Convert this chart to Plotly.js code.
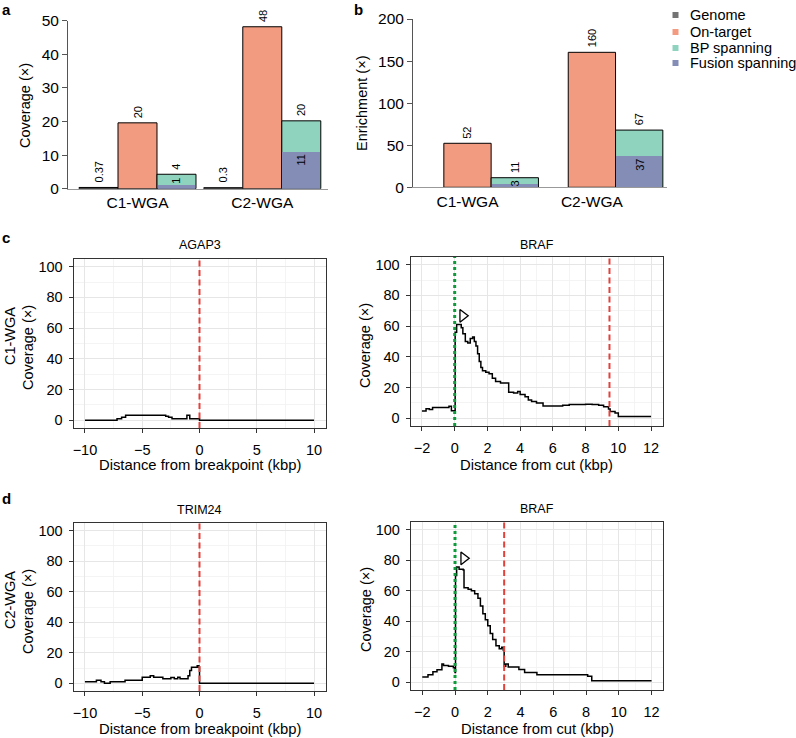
<!DOCTYPE html>
<html><head><meta charset="utf-8">
<script src="https://cdn.plot.ly/plotly-3.0.1.min.js"></script>
<style>html,body{margin:0;padding:0;background:#fff}#chart{width:796px;height:738px}</style>
</head><body><div id="chart"></div>
<script>
// ---------------- data ----------------
const sampleGroups = ['C1-WGA', 'C2-WGA'];
const seriesNames = ['Genome', 'On-target', 'BP spanning', 'Fusion spanning'];

// panel a: coverage (x)
const coverageGenome   = [0.37, 0.30];
const coverageOnTarget = [19.6, 48.2];
const coverageBP       = [4.3, 20.2];
const coverageFusion   = [1.1, 11.0];
const coverageGenomeLabels   = ['0.37', '0.3'];
const coverageOnTargetLabels = ['20', '48'];
const coverageBPLabels       = ['4', '20'];
const coverageFusionLabels   = ['1', '11'];

// panel b: enrichment (x)
const enrichOnTarget = [52.3, 160.4];
const enrichBP       = [11.4, 68.0];
const enrichFusion   = [3.9, 37.6];
const enrichOnTargetLabels = ['52', '160'];
const enrichBPLabels       = ['11', '67'];
const enrichFusionLabels   = ['3', '37'];

// panel c/d: coverage profiles (kbp, coverage)
const c1AgapX = [-10, -7.2, -6.8, -6.45, -2.95, -2.7, -2.4, -1.1, -0.85, 0, 10];
const c1AgapY = [0, 1, 2, 3.3, 2.6, 2, 1, 3.3, 1, 0, 0];

const c1BrafX = [-2.0, -1.75, -1.55, -1.35, -0.35, -0.2, 0.0, 0.03, 0.12, 0.4, 0.5, 0.65, 0.8, 0.95, 1.1, 1.2, 1.3, 1.4, 1.5, 1.6, 1.7, 1.9, 2.1, 2.3, 2.5, 2.8, 3.3, 3.6, 3.85, 4.0, 4.3, 4.5, 4.7, 5.0, 5.4, 6.3, 6.6, 7.0, 7.6, 8.0, 8.4, 8.8, 9.1, 9.4, 9.5, 9.8, 10.0, 12.0];
const c1BrafY = [4.8, 6.3, 5.8, 7.0, 7.8, 5.0, 5.0, 56, 61, 59, 55, 50, 49, 52, 53, 50, 47, 42, 37, 33, 31, 30, 29, 26, 24, 23, 17, 16.5, 17.5, 15.5, 14, 12, 11, 10, 8, 8, 8.5, 9, 9, 9.2, 9, 8.5, 7.5, 6, 4.5, 3.5, 1.2, 1.2];

const c2TrimX = [-10, -9.0, -8.6, -8.3, -7.8, -6.5, -5.0, -4.3, -4.0, -3.2, -2.5, -2.2, -1.9, -1.7, -1.0, -0.85, -0.7, -0.2, -0.05, 0, 10];
const c2TrimY = [1.1, 2, 1, 0, 1, 2, 4, 5, 4, 3, 3.9, 3, 4, 3, 5, 8.5, 10.5, 11.5, 10.5, 0, 0];

const c2BrafX = [-2.0, -1.65, -1.35, -1.1, -0.8, -0.7, -0.4, -0.1, 0.0, 0.03, 0.1, 0.25, 0.5, 0.55, 0.8, 1.0, 1.2, 1.4, 1.55, 1.7, 1.85, 2.0, 2.15, 2.3, 2.5, 2.7, 2.85, 2.95, 3.0, 3.1, 3.25, 3.9, 4.25, 5.0, 7.8, 8.1, 8.35, 12.0];
const c2BrafY = [3.5, 5, 7, 8.3, 12, 11, 10.5, 9.5, 6.5, 70, 75.5, 74, 73.5, 62, 61, 60, 58, 55, 50, 45, 41, 37, 32, 28, 24, 22, 23, 21, 10.5, 12, 10, 8.5, 6.5, 5, 5, 4, 1, 1];

const breakpointPos = [0, 0];      // AGAP3 (C1), TRIM24 (C2)
const cutPos = [0, 0];             // BRAF cut (C1, C2)
const fusionEndPos = [9.46, 3.0];  // BRAF breakpoint (C1, C2)
const peakMarkX = [0.49, 0.53];
const peakMarkY = [66.7, 81.2];

const geneTitles = ['AGAP3', 'BRAF', 'TRIM24', 'BRAF'];
const sampleRowLabels = ['C1-WGA', 'C2-WGA'];
const covTitle = 'Coverage (×)';
const enrTitle = 'Enrichment (×)';
const bpTitle = 'Distance from breakpoint (kbp)';
const cutTitle = 'Distance from cut (kbp)';

// ---------------- styles ----------------
const W = 796, H = 738;
const FONT = '"Liberation Sans", Arial, Helvetica, sans-serif';
const seriesColors = ['#747474', '#F29B80', '#8FD2BE', '#838DB6'];
const [colGenome, colOn, colBP, colFus] = seriesColors;
const xd = (a, b) => [a / W, b / W];
const yd = (top, bottom) => [1 - bottom / H, 1 - top / H];
const PX = v => v / W, PY = v => 1 - v / H;

const aGap = 3.2, bGap = 2.63;
const posA = (g, s) => g * aGap + s;
const posB = (g, s) => g * bGap + s;
const idx = sampleGroups.map((_, i) => i);

const traces = [];
const barLine = {color: '#000', width: 1};
function bar(xs, ys, w, color, line, xa, ya) {
  traces.push({type: 'bar', x: xs, y: ys, width: w, marker: {color: color, line: line},
    xaxis: xa, yaxis: ya, showlegend: false, hoverinfo: 'skip'});
}
// panel a bars
bar(idx.map(g => posA(g, 0)), coverageGenome, 1, colGenome, barLine, 'x', 'y');
bar(idx.map(g => posA(g, 1)), coverageOnTarget, 1, colOn, barLine, 'x', 'y');
bar(idx.map(g => posA(g, 2)), coverageBP, 1, colBP, barLine, 'x', 'y');
bar(idx.map(g => posA(g, 2)), coverageFusion, 0.97, colFus, {width: 0}, 'x', 'y');
// panel b bars
bar(idx.map(g => posB(g, 1)), enrichOnTarget, 1, colOn, barLine, 'x2', 'y2');
bar(idx.map(g => posB(g, 2)), enrichBP, 1, colBP, barLine, 'x2', 'y2');
bar(idx.map(g => posB(g, 2)), enrichFusion, 0.97, colFus, {width: 0}, 'x2', 'y2');

// coverage profiles
const prof = [[c1AgapX, c1AgapY, 3], [c1BrafX, c1BrafY, 4], [c2TrimX, c2TrimY, 5], [c2BrafX, c2BrafY, 6]];
prof.forEach(([x, y, k]) => {
  traces.push({type: 'scatter', mode: 'lines', x: x, y: y, line: {shape: 'hv', color: '#000', width: 1.5},
    xaxis: 'x' + k, yaxis: 'y' + k, showlegend: false, hoverinfo: 'skip'});
});
// peak markers
[[4, 0], [6, 1]].forEach(([k, i]) => {
  traces.push({type: 'scatter', mode: 'markers', x: [peakMarkX[i]], y: [peakMarkY[i]],
    marker: {symbol: 'triangle-right-open', size: 11, color: '#000', line: {width: 1.3, color: '#000'}},
    xaxis: 'x' + k, yaxis: 'y' + k, showlegend: false, hoverinfo: 'skip', cliponaxis: false});
});

// ---------------- annotations ----------------
const ann = [];
const txt = (x, y, text, size, extra) => ann.push(Object.assign({xref: 'paper', yref: 'paper', x: PX(x), y: PY(y),
  text: text, showarrow: false, xanchor: 'center', yanchor: 'middle',
  font: {family: FONT, size: size, color: '#000'}}, extra || {}));

function barLabel(xa, ya, x, y, text, inside) {
  ann.push({xref: xa, yref: ya, x: x, y: y, text: text, showarrow: false, textangle: -90,
    xanchor: 'center', yanchor: inside ? 'top' : 'bottom', yshift: inside ? -1 : 3,
    font: {family: FONT, size: 11, color: '#000'}});
}
const aPxPerUnit = (188.7 - 20.7) / 50, bPxPerUnit = (187.3 - 19) / 200;
idx.forEach(g => {
  barLabel('x', 'y', posA(g, 0), coverageGenome[g], coverageGenomeLabels[g], false);
  barLabel('x', 'y', posA(g, 1), coverageOnTarget[g], coverageOnTargetLabels[g], false);
  barLabel('x', 'y', posA(g, 2), coverageBP[g], coverageBPLabels[g], false);
  const fitsA = coverageFusion[g] * aPxPerUnit > 7 * coverageFusionLabels[g].length;
  barLabel('x', 'y', posA(g, 2), fitsA ? coverageFusion[g] : coverageBP[g], coverageFusionLabels[g], true);
  barLabel('x2', 'y2', posB(g, 1), enrichOnTarget[g], enrichOnTargetLabels[g], false);
  barLabel('x2', 'y2', posB(g, 2), enrichBP[g], enrichBPLabels[g], false);
  const fitsB = enrichFusion[g] * bPxPerUnit > 7 * enrichFusionLabels[g].length;
  barLabel('x2', 'y2', posB(g, 2), fitsB ? enrichFusion[g] : enrichBP[g], enrichFusionLabels[g], true);
});
// panel letters
[['a', 6, 9], ['b', 358, 9], ['c', 6, 237], ['d', 6, 499]].forEach(([t, x, y]) => txt(x, y, '<b>' + t + '</b>', 15));
// gene titles
[[199.5, 245], [536.5, 245], [199.5, 510], [537, 509]].forEach(([x, y], i) => txt(x, y, geneTitles[i], 12.5));
// axis titles
txt(25, 105, covTitle, 14.5, {textangle: -90});
txt(362, 103, enrTitle, 14.5, {textangle: -90});
txt(10, 336, sampleRowLabels[0], 14.5, {textangle: -90});
txt(28, 348, covTitle, 14.5, {textangle: -90});
txt(365, 346, covTitle, 14.5, {textangle: -90});
txt(10, 600, sampleRowLabels[1], 14.5, {textangle: -90});
txt(28, 612, covTitle, 14.5, {textangle: -90});
txt(366, 610, covTitle, 14.5, {textangle: -90});
txt(199.5, 465, bpTitle, 14.8);
txt(536.5, 465, cutTitle, 14.8);
txt(199.5, 729, bpTitle, 14.8);
txt(537, 729, cutTitle, 14.8);

// ---------------- shapes ----------------
const shapes = [];
// legend (swatch + label)
const legRows = [15, 32, 48, 63];
seriesNames.forEach((name, i) => {
  shapes.push({type: 'rect', xref: 'paper', yref: 'paper', x0: PX(672.5), x1: PX(678.5), y0: PY(legRows[i] + 3), y1: PY(legRows[i] - 3),
    fillcolor: seriesColors[i], line: {width: 0}});
  txt(688, legRows[i], name, 14.5, {xanchor: 'left'});
});
const red = {color: '#E5413B', width: 2, dash: '6px,3.5px'};
const green = {color: '#0F9A3C', width: 3, dash: 'dot'};
[[3, 0], [5, 1]].forEach(([k, i]) => {
  shapes.push({type: 'line', xref: 'x' + k, yref: 'y' + k + ' domain', x0: breakpointPos[i], x1: breakpointPos[i], y0: 0, y1: 1, line: red});
});
[[4, 0], [6, 1]].forEach(([k, i]) => {
  shapes.push({type: 'line', xref: 'x' + k, yref: 'y' + k + ' domain', x0: cutPos[i], x1: cutPos[i], y0: 0, y1: 1, line: green});
  shapes.push({type: 'line', xref: 'x' + k, yref: 'y' + k + ' domain', x0: fusionEndPos[i], x1: fusionEndPos[i], y0: 0, y1: 1, line: red});
});

// ---------------- axes ----------------
function barY(dom, rng, dt, anchor) {
  return {domain: dom, anchor: anchor, range: rng, dtick: dt, tick0: 0, showgrid: false, zeroline: false, showline: true,
    linecolor: '#555', linewidth: 1, ticks: 'outside', ticklen: 5, tickcolor: '#555',
    tickfont: {family: FONT, size: 15.5, color: '#000'}, fixedrange: true};
}
function barX(dom, rng, anchor, pos) {
  return {domain: dom, range: rng, anchor: anchor, showgrid: false, zeroline: false, showline: true,
    linecolor: '#999', linewidth: 1, ticks: '', tickvals: idx.map(g => pos(g, 1)), ticktext: sampleGroups,
    tickfont: {family: FONT, size: 15.5, color: '#000'}, fixedrange: true};
}
const profTickFont = {family: FONT, size: 14.5, color: '#000'};
function profY(dom, anchor) {
  return {domain: dom, anchor: anchor, range: [-5, 105], tick0: 0, dtick: 20, showgrid: true, gridcolor: '#E6E6E6', gridwidth: 1,
    minor: {dtick: 10, showgrid: true, gridcolor: '#F1F1F1', gridwidth: 0.8},
    zeroline: false, showline: true, mirror: true, linecolor: '#333', linewidth: 1,
    ticks: 'outside', ticklen: 4, tickcolor: '#333', tickfont: profTickFont, ticklabelstandoff: 3, fixedrange: true};
}
function profX(dom, anchor, rng, dt) {
  return {domain: dom, anchor: anchor, range: rng, tick0: 0, dtick: dt, showgrid: true, gridcolor: '#E6E6E6', gridwidth: 1,
    minor: {dtick: dt / 2, showgrid: true, gridcolor: '#F1F1F1', gridwidth: 0.8},
    zeroline: false, showline: true, mirror: true, linecolor: '#333', linewidth: 1,
    ticks: 'outside', ticklen: 4, tickcolor: '#333', tickfont: profTickFont, ticklabelstandoff: 5, fixedrange: true};
}

const layout = {
  width: W, height: H, margin: {l: 0, r: 0, t: 0, b: 0}, paper_bgcolor: '#fff', plot_bgcolor: 'rgba(0,0,0,0)',
  font: {family: FONT, color: '#000'}, barmode: 'overlay', bargap: 0, showlegend: false,
  xaxis: barX(xd(68, 328), [-0.782, 5.885], 'y', posA),
  yaxis: barY(yd(20.7, 188.7), [0, 50], 10, 'x'),
  xaxis2: barX(xd(413, 667), [-0.152, 5.218], 'y2', posB),
  yaxis2: barY(yd(19, 187.3), [0, 200], 50, 'x2'),
  xaxis3: profX(xd(73.5, 325.5), 'y3', [-11, 11], 5),
  yaxis3: profY(yd(259, 428), 'x3'),
  xaxis4: profX(xd(410.5, 662.5), 'y4', [-2.7, 12.7], 2),
  yaxis4: profY(yd(257, 426), 'x4'),
  xaxis5: profX(xd(73.5, 325.5), 'y5', [-11, 11], 5),
  yaxis5: profY(yd(523, 691), 'x5'),
  xaxis6: profX(xd(410.8, 663), 'y6', [-2.7, 12.7], 2),
  yaxis6: profY(yd(522, 690), 'x6'),
  annotations: ann, shapes: shapes
};
Plotly.newPlot('chart', traces, layout, {staticPlot: true, displayModeBar: false});
</script></body></html>
